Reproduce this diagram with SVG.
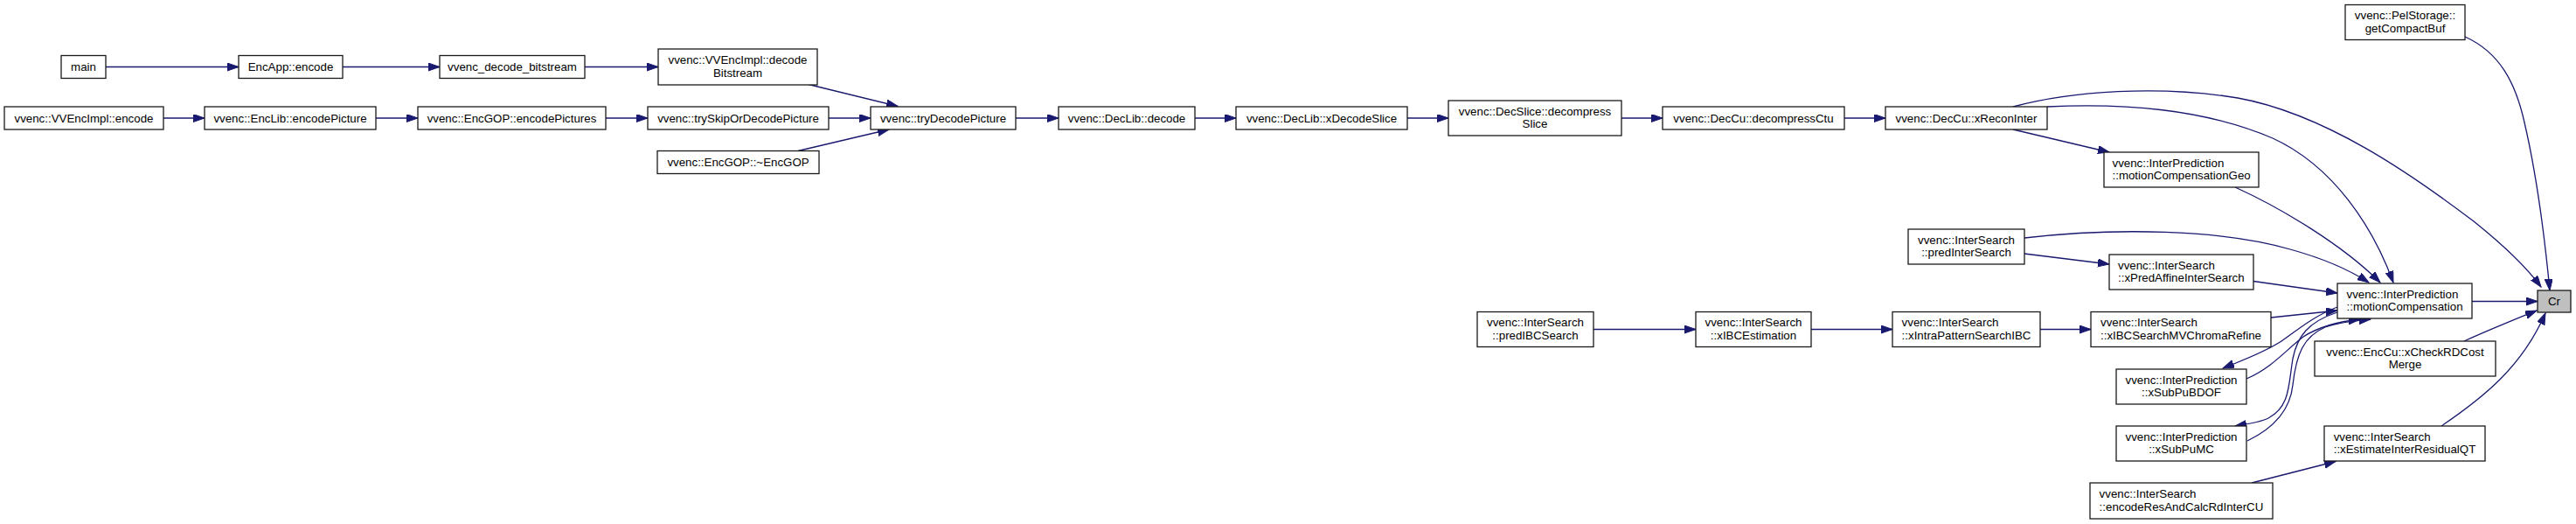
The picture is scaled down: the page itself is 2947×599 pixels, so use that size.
<svg xmlns="http://www.w3.org/2000/svg" width="2947" height="599" viewBox="0 0 2947 599">
<style>
.n rect{fill:#ffffff;stroke:#1a1a1a;stroke-width:1.3}
.n rect.hl{fill:#bfbfbf}
.n text{font-family:"Liberation Sans",Arial,Helvetica,sans-serif;font-size:13.3px;fill:#000}
.c{text-anchor:middle}
.e path{fill:none;stroke:#191970;stroke-width:1.3;marker-end:url(#ah)}
</style>
<defs>
<marker id="ah" markerUnits="userSpaceOnUse" markerWidth="14" markerHeight="10" refX="13" refY="4.5" orient="auto">
<path d="M0,0 L13,4.5 L0,9 z" fill="#191970" stroke="#191970" stroke-width="1"/>
</marker>
</defs>
<rect width="2947" height="599" fill="#ffffff"/>
<g id="edges" class="e">
<path d="M121,76.5 H273"/>
<path d="M392,76.5 H503"/>
<path d="M669,76.5 H753"/>
<path d="M187,135 H234"/>
<path d="M430,135 H478"/>
<path d="M693,135 H741"/>
<path d="M925,96.5 L1027,121.5"/>
<path d="M948,135 H996"/>
<path d="M913,172.5 L1017,148"/>
<path d="M1162,135 H1211"/>
<path d="M1367,135 H1414"/>
<path d="M1610,135 H1657"/>
<path d="M1855,135 H1902"/>
<path d="M2110,135 H2157"/>
<path d="M2303,148 L2413,174"/>
<path d="M2342,122 C2430,118 2520,124 2600,158 C2670,190 2715,260 2738,323"/>
<path d="M2303,122 C2370,104 2470,97 2560,112 C2660,130 2760,200 2830,253 C2860,277 2890,305 2907,328"/>
<path d="M2820,42 C2860,60 2878,95 2888,140 C2902,200 2912,280 2917,332"/>
<path d="M2316,272 C2420,260 2540,262 2620,285 C2660,296 2690,310 2710,323"/>
<path d="M2316,290 L2413,302"/>
<path d="M2557,214 C2610,238 2680,280 2723,323"/>
<path d="M2578,321.5 L2674,335"/>
<path d="M2828,344.5 H2903"/>
<path d="M2819,390 C2850,376 2880,364 2902,355"/>
<path d="M2793,487 C2840,455 2885,420 2912,358"/>
<path d="M2576,552 L2672,527.5"/>
<path d="M1823,376.5 H1940"/>
<path d="M2072,376.5 H2165"/>
<path d="M2334,376.5 H2392"/>
<path d="M2598,363 L2674,355"/>
<path d="M2674,351 C2645,362 2625,380 2610,390 C2590,403 2565,412 2543,421"/>
<path d="M2570,433 C2600,420 2615,400 2635,385 C2655,372 2680,367 2700,365"/>
<path d="M2674,357 C2640,368 2628,385 2623,410 C2618,440 2620,465 2595,478 C2585,483 2570,485 2557,487"/>
<path d="M2571,504 C2600,490 2620,470 2623,440 C2627,405 2635,385 2660,374 C2680,367 2700,366 2712,365"/>
</g>
<g id="n_main" class="n"><rect x="70" y="63.5" width="51" height="26"/><text class="c" x="95.5" y="81">main</text></g>
<g id="n_encapp" class="n"><rect x="273" y="63.5" width="119" height="26"/><text class="c" x="332.5" y="81">EncApp::encode</text></g>
<g id="n_decode_bitstream" class="n"><rect x="503" y="63.5" width="166" height="26"/><text class="c" x="586" y="81">vvenc_decode_bitstream</text></g>
<g id="n_vvencimpl_decode" class="n"><rect x="753" y="56" width="182" height="41"/><text class="c" x="844" y="73.3">vvenc::VVEncImpl::decode</text><text class="c" x="844" y="87.5">Bitstream</text></g>
<g id="n_vvencimpl_encode" class="n"><rect x="5" y="122" width="182" height="26"/><text class="c" x="96" y="139.5">vvenc::VVEncImpl::encode</text></g>
<g id="n_enclib" class="n"><rect x="234" y="122" width="196" height="26"/><text class="c" x="332" y="139.5">vvenc::EncLib::encodePicture</text></g>
<g id="n_encgop" class="n"><rect x="478" y="122" width="215" height="26"/><text class="c" x="585.5" y="139.5">vvenc::EncGOP::encodePictures</text></g>
<g id="n_tryskip" class="n"><rect x="741" y="122" width="207" height="26"/><text class="c" x="844.5" y="139.5">vvenc::trySkipOrDecodePicture</text></g>
<g id="n_encgop_dtor" class="n"><rect x="752" y="172.5" width="185" height="26"/><text class="c" x="844.5" y="190">vvenc::EncGOP::~EncGOP</text></g>
<g id="n_trydecode" class="n"><rect x="996" y="122" width="166" height="26"/><text class="c" x="1079" y="139.5">vvenc::tryDecodePicture</text></g>
<g id="n_declib_decode" class="n"><rect x="1211" y="122" width="156" height="26"/><text class="c" x="1289" y="139.5">vvenc::DecLib::decode</text></g>
<g id="n_xdecodeslice" class="n"><rect x="1414" y="122" width="196" height="26"/><text class="c" x="1512" y="139.5">vvenc::DecLib::xDecodeSlice</text></g>
<g id="n_decompressslice" class="n"><rect x="1657" y="115" width="198" height="40"/><text class="c" x="1756" y="131.8">vvenc::DecSlice::decompress</text><text class="c" x="1756" y="146">Slice</text></g>
<g id="n_decompressctu" class="n"><rect x="1902" y="122" width="208" height="26"/><text class="c" x="2006" y="139.5">vvenc::DecCu::decompressCtu</text></g>
<g id="n_xreconinter" class="n"><rect x="2157" y="122" width="185" height="26"/><text class="c" x="2249.5" y="139.5">vvenc::DecCu::xReconInter</text></g>
<g id="n_pelstorage" class="n"><rect x="2683" y="5.5" width="137" height="40"/><text class="c" x="2751.5" y="22.3">vvenc::PelStorage::</text><text class="c" x="2751.5" y="36.5">getCompactBuf</text></g>
<g id="n_mcgeo" class="n"><rect x="2407" y="174" width="177" height="40"/><text x="2416.5" y="190.8">vvenc::InterPrediction</text><text x="2416.5" y="205">::motionCompensationGeo</text></g>
<g id="n_predintersearch" class="n"><rect x="2183" y="262" width="133" height="40"/><text class="c" x="2249.5" y="278.8">vvenc::InterSearch</text><text class="c" x="2249.5" y="293">::predInterSearch</text></g>
<g id="n_xpredaffine" class="n"><rect x="2413" y="291" width="165" height="40"/><text x="2423" y="307.8">vvenc::InterSearch</text><text x="2423" y="322">::xPredAffineInterSearch</text></g>
<g id="n_mc" class="n"><rect x="2674" y="324" width="154" height="40"/><text x="2684.5" y="340.8">vvenc::InterPrediction</text><text x="2684.5" y="355">::motionCompensation</text></g>
<g id="n_cr" class="n"><rect class="hl" x="2903" y="332" width="38" height="25"/><text class="c" x="2922" y="349">Cr</text></g>
<g id="n_predibcsearch" class="n"><rect x="1690" y="356.5" width="133" height="40"/><text class="c" x="1756.5" y="373.3">vvenc::InterSearch</text><text class="c" x="1756.5" y="387.5">::predIBCSearch</text></g>
<g id="n_xibcestimation" class="n"><rect x="1940" y="356.5" width="132" height="40"/><text class="c" x="2006" y="373.3">vvenc::InterSearch</text><text class="c" x="2006" y="387.5">::xIBCEstimation</text></g>
<g id="n_xintrapattern" class="n"><rect x="2165" y="356.5" width="169" height="40"/><text x="2175.6" y="373.3">vvenc::InterSearch</text><text x="2175.6" y="387.5">::xIntraPatternSearchIBC</text></g>
<g id="n_xibcsearchmv" class="n"><rect x="2392" y="356.5" width="206" height="40"/><text x="2403" y="373.3">vvenc::InterSearch</text><text x="2403" y="387.5">::xIBCSearchMVChromaRefine</text></g>
<g id="n_xcheckrdcostmerge" class="n"><rect x="2648" y="390" width="207" height="40"/><text class="c" x="2751.5" y="406.8">vvenc::EncCu::xCheckRDCost</text><text class="c" x="2751.5" y="421">Merge</text></g>
<g id="n_xsubpubdof" class="n"><rect x="2421" y="422" width="149" height="40"/><text class="c" x="2495.5" y="438.8">vvenc::InterPrediction</text><text class="c" x="2495.5" y="453">::xSubPuBDOF</text></g>
<g id="n_xsubpumc" class="n"><rect x="2421" y="487" width="149" height="40"/><text class="c" x="2495.5" y="503.8">vvenc::InterPrediction</text><text class="c" x="2495.5" y="518">::xSubPuMC</text></g>
<g id="n_xestimate" class="n"><rect x="2659" y="487" width="184" height="40"/><text x="2669.7" y="503.8">vvenc::InterSearch</text><text x="2669.7" y="518">::xEstimateInterResidualQT</text></g>
<g id="n_encoderes" class="n"><rect x="2391" y="552" width="209" height="41"/><text x="2401.6" y="569.3">vvenc::InterSearch</text><text x="2401.6" y="583.5">::encodeResAndCalcRdInterCU</text></g>
</svg>
